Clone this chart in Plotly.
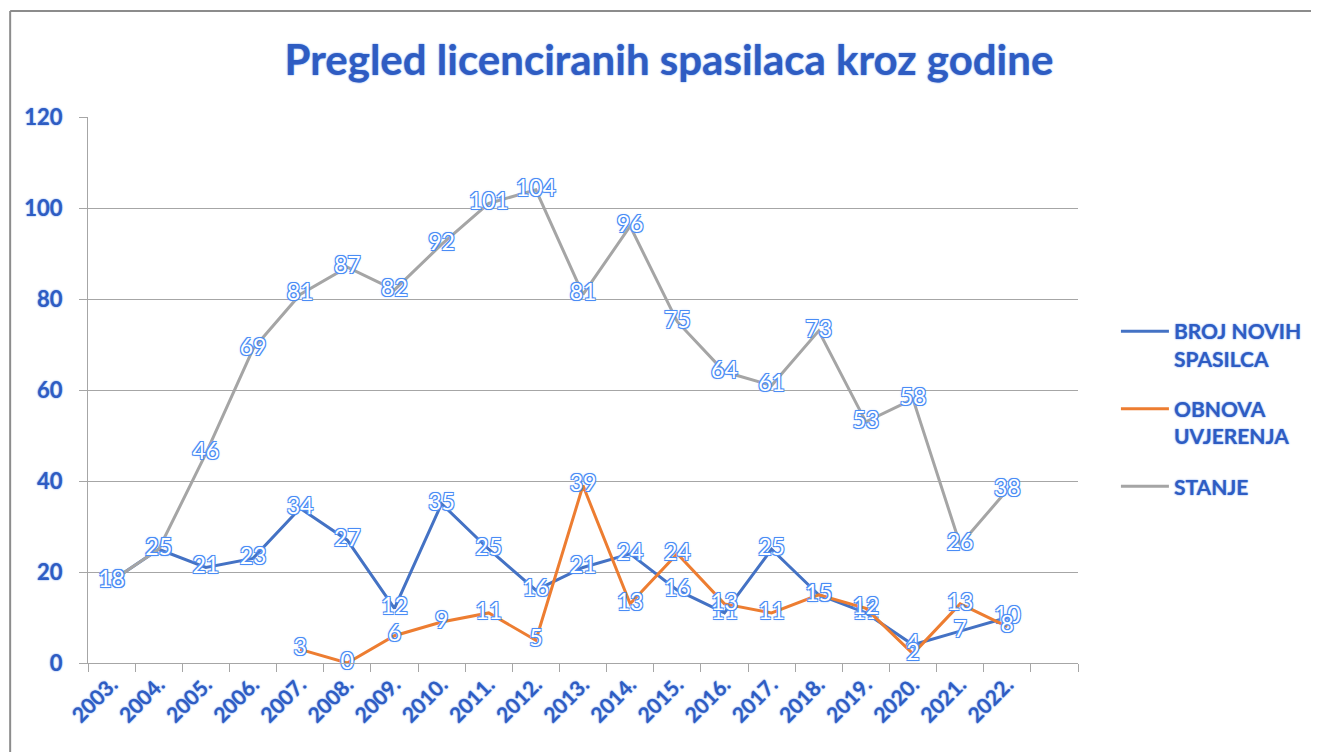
import plotly.graph_objects as go

years = ["2003.", "2004.", "2005.", "2006.", "2007.", "2008.", "2009.", "2010.", "2011.", "2012.",
         "2013.", "2014.", "2015.", "2016.", "2017.", "2018.", "2019.", "2020.", "2021.", "2022."]
broj_novih = [18, 25, 21, 23, 34, 27, 12, 35, 25, 16, 21, 24, 16, 11, 25, 15, 11, 4, 7, 10]
obnova = [None, None, None, None, 3, 0, 6, 9, 11, 5, 39, 13, 24, 13, 11, 15, 12, 2, 13, 8]
stanje = [18, 25, 46, 69, 81, 87, 82, 92, 101, 104, 81, 96, 75, 64, 61, 73, 53, 58, 26, 38]

series_names = ["BROJ NOVIH<br>SPASILCA", "OBNOVA<br>UVJERENJA", "STANJE"]
series_colors = ["#4472C4", "#ED7D31", "#A5A5A5"]

FONT = "Lato"
TXT_BLUE = "#2E5CC2"
label_shadow = ("-1px -1px 0 #4A8CF5, 1px -1px 0 #4A8CF5, -1px 1px 0 #4A8CF5, 1px 1px 0 #4A8CF5, "
                "0 0 3px #8DB8FF")
blue_shadow = "0 0 2px #8FB0F0, 0 0 1px #8FB0F0"

# page body has an 8px margin; work in page pixels and convert
OFF = 8
W, H = 1319 - OFF, 752 - OFF
L, R, T, B = 88, 1080, 117, 663  # plot area in page pixels

fig = go.Figure()
for i, (name, vals, col) in enumerate(zip(series_names, [broj_novih, obnova, stanje], series_colors)):
    fig.add_trace(go.Scatter(
        x=years, y=vals, name=name, mode="lines+text", legendgroup=f"g{i}",
        line=dict(color=col, width=3),
        text=[("" if v is None else str(v)) for v in vals],
        textposition="middle center",
        textfont=dict(family=FONT, size=23, color="white", shadow=label_shadow),
        connectgaps=False, cliponaxis=False,
    ))

all_cats = years + [" "]

fig.update_layout(
    width=W, height=H,
    paper_bgcolor="white", plot_bgcolor="white",
    margin=dict(l=L - OFF, r=W - (R - OFF), t=T - OFF, b=H - (B - OFF)),
    title=dict(text="<b>Pregled licenciranih spasilaca kroz godine</b>",
               x=(669 - OFF) / W, xanchor="center", y=1 - (60 - OFF) / H, yanchor="middle",
               font=dict(family=FONT, size=42, color=TXT_BLUE, shadow=blue_shadow)),
    showlegend=True,
    legend=dict(x=(1118 - L) / (R - L), xanchor="left", y=(B - 311) / (B - T), yanchor="top",
                traceorder="grouped", valign="top",
                font=dict(family=FONT, size=21, color=TXT_BLUE, weight="bold", shadow=blue_shadow),
                itemwidth=48, tracegroupgap=20, bgcolor="rgba(0,0,0,0)"),
    xaxis=dict(type="category", categoryorder="array", categoryarray=all_cats,
               range=[-0.5, 20.5], tickson="boundaries", ticks="outside", ticklen=8,
               tickcolor="#A6A6A6", showgrid=False, showline=True, linecolor="#A6A6A6",
               tickangle=-45, zeroline=False,
               tickfont=dict(family=FONT, size=21, color=TXT_BLUE, weight="bold", shadow=blue_shadow)),
    yaxis=dict(range=[0, 120], dtick=20, tick0=0, showgrid=True, gridcolor="#A6A6A6", gridwidth=1,
               showline=True, linecolor="#A6A6A6", ticks="outside", ticklen=8, tickcolor="#A6A6A6",
               zeroline=False, ticklabelstandoff=12,
               tickfont=dict(family=FONT, size=22, color=TXT_BLUE, weight="bold", shadow=blue_shadow)),
)

# frame border lines of the chart box (top and left)
pw, ph = R - L, B - T
fx = (10 - L) / pw
fy = (B - 11) / ph
fig.add_shape(type="line", xref="paper", yref="paper", x0=fx, x1=(1330 - L) / pw, y0=fy, y1=fy,
              line=dict(color="#8C8C8C", width=2))
fig.add_shape(type="line", xref="paper", yref="paper", x0=fx, x1=fx, y0=fy, y1=(B - 770) / ph,
              line=dict(color="#8C8C8C", width=2))

fig.write_html("out.html")
